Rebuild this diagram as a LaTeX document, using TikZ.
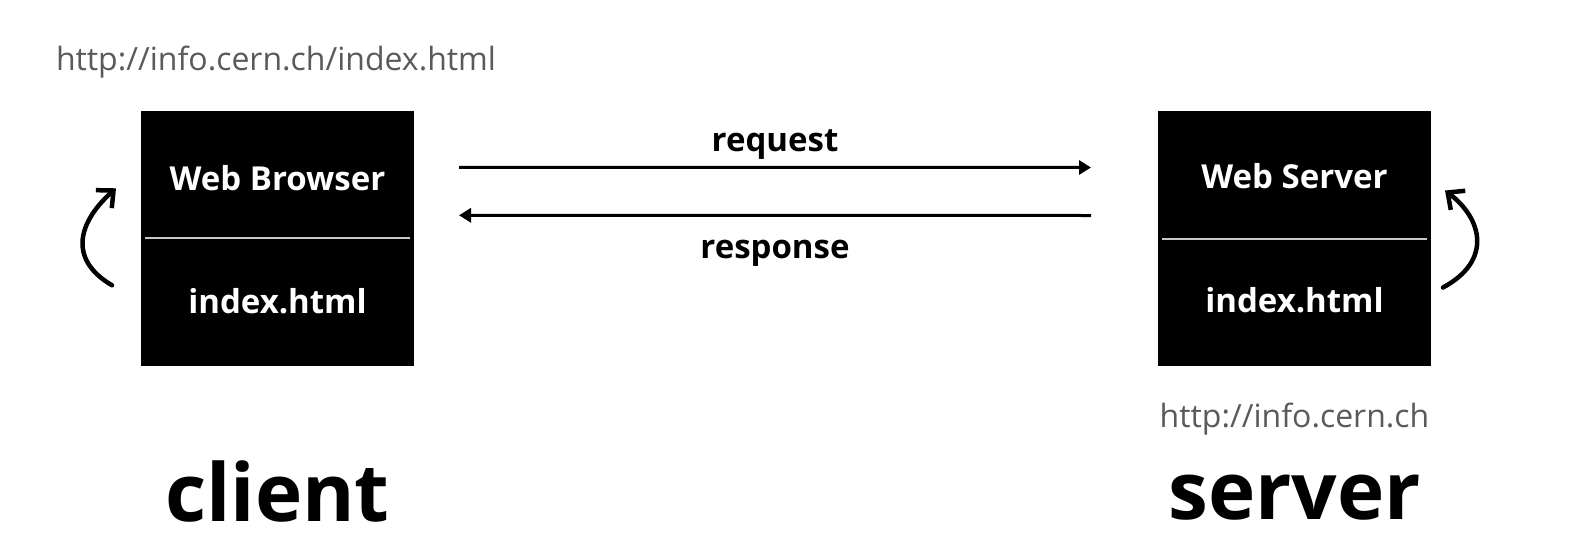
\documentclass[tikz,border=0pt]{standalone}
\usepackage{fontspec}
\setmainfont{Open Sans}
\usetikzlibrary{arrows.meta}
\definecolor{urlgray}{HTML}{5A5A5A}
\definecolor{rulegray}{HTML}{C8C8C8}

\begin{document}
\begin{tikzpicture}[x=1pt, y=-1pt,
  every node/.style={inner sep=0pt, outer sep=0pt},
  machine/.style={fill=black, minimum width=273pt, minimum height=255pt},
  inlabel/.style={text=white, font=\fontsize{33}{40}\selectfont\bfseries, anchor=base},
  msg/.style={font=\fontsize{33}{40}\selectfont\bfseries, anchor=base},
  url/.style={text=urlgray, font=\fontsize{32}{38}\selectfont},
  role/.style={font=\fontsize{80}{96}\selectfont\bfseries, anchor=base},
  divider/.style={draw=rulegray, line width=2pt},
  flow/.style={-{Triangle[length=12pt, width=14pt]}, line width=3pt},
  reload/.style={-{Straight Barb[length=13pt, width=24pt]}, line width=4.5pt, line cap=round}]

\useasboundingbox (0,0) rectangle (1592,538);

\node[machine] (browser) at (277.5,238.3) {};
\node[machine] (server) at (1294.5,238.5) {};

\node[inlabel] (browserName) at (277.5,190) {Web Browser};
\node[inlabel] (browserFile) at (277.5,313) {index.html};
\node[inlabel] (serverName) at (1294.5,188) {Web Server};
\node[inlabel] (serverFile) at (1294.5,312) {index.html};

\draw[divider] ([xshift=4pt]browser.west) -- ([xshift=-4pt]browser.east);
\draw[divider] ([xshift=4pt]server.west) -- ([xshift=-4pt]server.east);

\node[url, anchor=base west] (pageUrl) at (56,70) {http://info.cern.ch/index.html};
\node[url, anchor=base] (hostUrl) at (1294.5,427) {http://info.cern.ch};

\node[role] (client) at (277.5,521) {client};
\node[role] (serverRole) at (1294.5,519) {server};

\node[msg] (request) at (775,151) {request};
\node[msg] (response) at (775,258) {response};

\draw[flow] ([shift={(45,-71)}]browser.east) -- ([shift={(-67,-71)}]server.west);
\draw[flow] ([shift={(-67,-23)}]server.west) -- ([shift={(45,-23)}]browser.east);

\draw[reload] ([shift={(-29,47)}]browser.west) .. controls ([shift={(-75,20)}]browser.west) and ([shift={(-61,-18)}]browser.west) .. ([shift={(-25,-50)}]browser.west);
\draw[reload] ([shift={(12,49)}]server.east) .. controls ([shift={(62,22)}]server.east) and ([shift={(51,-20)}]server.east) .. ([shift={(14,-48)}]server.east);
\end{tikzpicture}
\end{document}
